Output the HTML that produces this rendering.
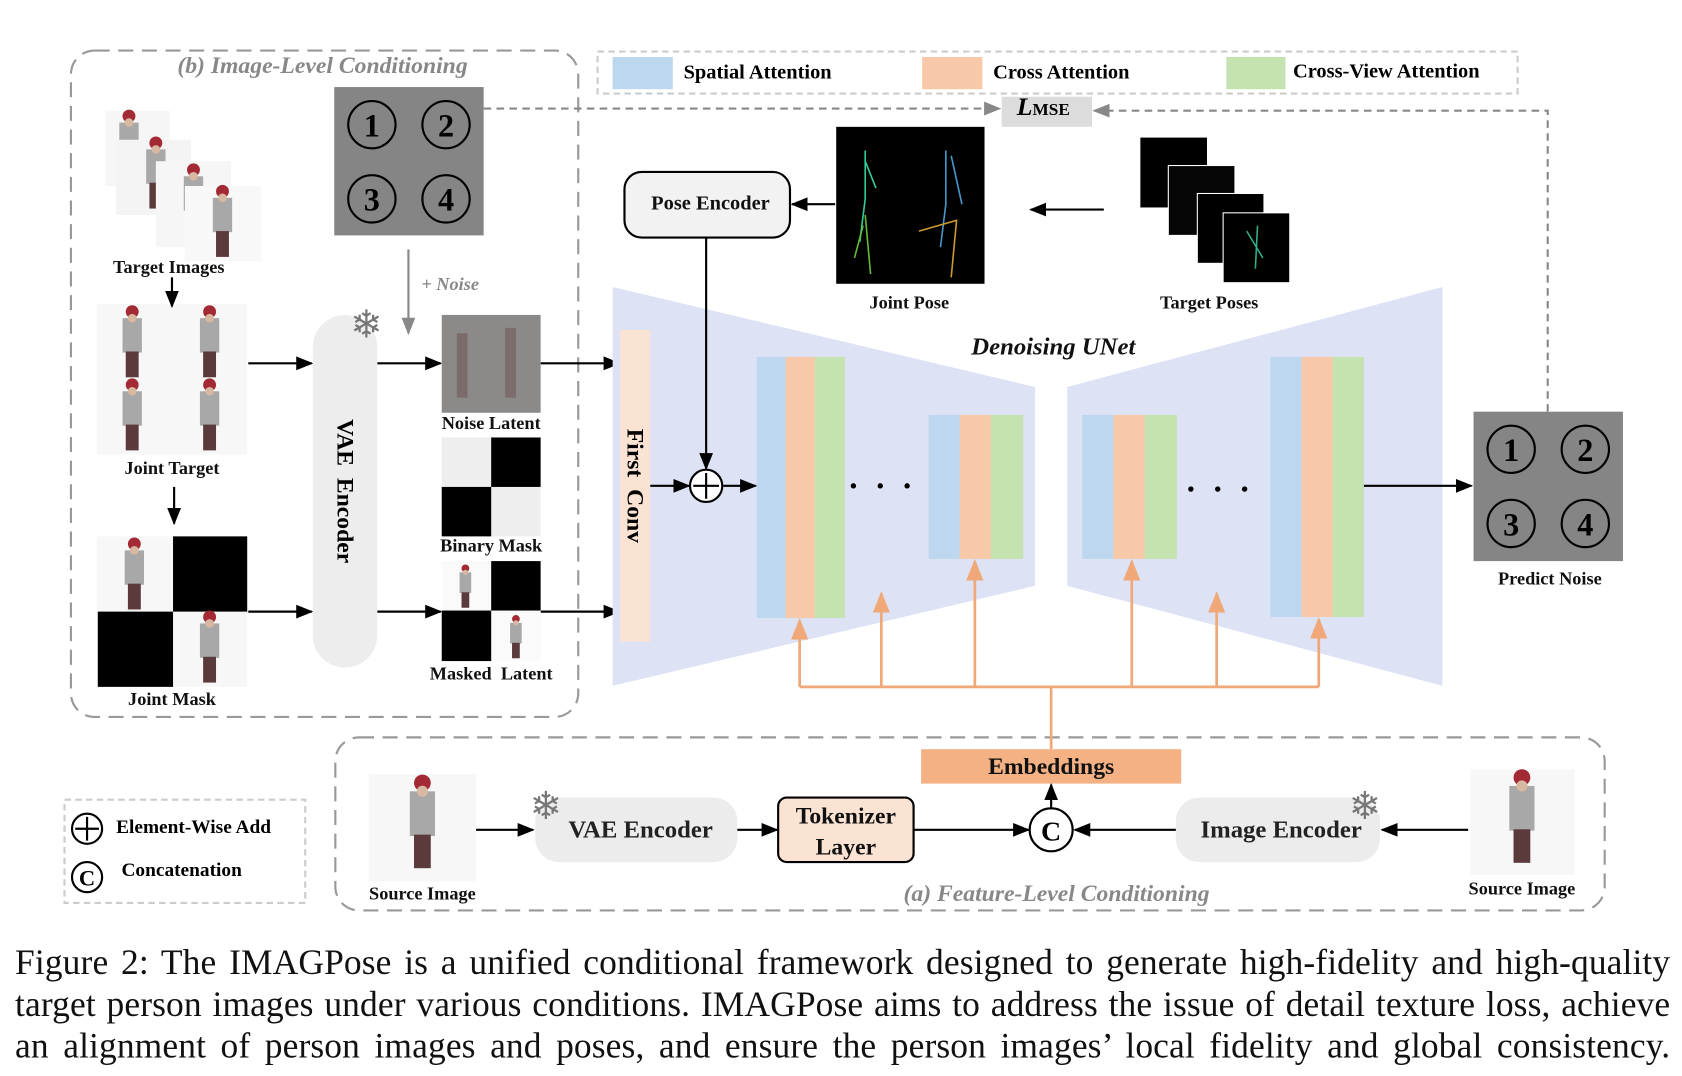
<!DOCTYPE html>
<html><head><meta charset="utf-8"><style>
html,body{margin:0;padding:0;background:#fff;overflow:hidden}
#w{position:absolute;left:0;top:0;width:1565px;height:1001px;transform:scale(1.0748,1.0749);transform-origin:0 0;font-family:"Liberation Serif",serif}
.a{position:absolute}
.lb{position:absolute;font-weight:bold;font-size:17px;white-space:nowrap;transform:translateX(-50%);color:#111}
.cap{position:absolute;left:14px;width:1540px;font-size:33px;letter-spacing:0.1px;text-align:justify;text-align-last:justify;white-space:nowrap;color:#111}
</style></head><body><div id="w">
<svg class="a" style="left:0;top:0" width="1565" height="1001" viewBox="0 0 1565 1001">
<defs>
<marker id="ar" viewBox="0 0 10 10" refX="9" refY="5" markerWidth="8" markerHeight="8" orient="auto-start-reverse"><path d="M0,1 L10,5 L0,9 z" fill="#000"/></marker>
<marker id="ag" viewBox="0 0 10 10" refX="9" refY="5" markerWidth="8" markerHeight="8" orient="auto"><path d="M0,1 L10,5 L0,9 z" fill="#888"/></marker>
<marker id="ao" viewBox="0 0 10 10" refX="9" refY="5" markerWidth="8" markerHeight="8" orient="auto"><path d="M0,1 L10,5 L0,9 z" fill="#f0a878"/></marker>
<g id="person"><rect x="-9" y="-26" width="18" height="32" fill="#a8a8a8"/><circle cx="0" cy="-32" r="6" fill="#a32a35"/><rect x="-6" y="5" width="12" height="24" fill="#5a3a3a"/><circle cx="0" cy="-26" r="4" fill="#d8b8a0"/></g>
</defs>
<rect x="66" y="47" width="472" height="620" rx="22" fill="none" stroke="#999" stroke-width="2" stroke-dasharray="14,8"/>
<rect x="556" y="48" width="856" height="39" fill="none" stroke="#ccc" stroke-width="2" stroke-dasharray="6,4"/>
<rect x="312" y="686" width="1181" height="161" rx="22" fill="none" stroke="#999" stroke-width="2" stroke-dasharray="14,8"/>
<rect x="60" y="744" width="224" height="96" fill="none" stroke="#ccc" stroke-width="2" stroke-dasharray="6,4"/>
<rect x="570" y="53" width="56" height="30" fill="#bcd7ee"/>
<rect x="858" y="53" width="56" height="30" fill="#f8c9a8"/>
<rect x="1141" y="53" width="55" height="30" fill="#c5e3b0"/>
<rect x="311" y="81" width="139" height="138" fill="#858585"/>
<g fill="none" stroke="#000" stroke-width="2"><circle cx="346" cy="116" r="22"/><circle cx="415" cy="116" r="22"/><circle cx="346" cy="185" r="22"/><circle cx="415" cy="185" r="22"/></g>
<g font-size="30" text-anchor="middle" font-family="Liberation Serif" font-weight="bold"><text x="346" y="127">1</text><text x="415" y="127">2</text><text x="346" y="196">3</text><text x="415" y="196">4</text></g>
<rect x="1371" y="383" width="139" height="139" fill="#858585"/>
<g fill="none" stroke="#000" stroke-width="2"><circle cx="1406" cy="418" r="22"/><circle cx="1475" cy="418" r="22"/><circle cx="1406" cy="487" r="22"/><circle cx="1475" cy="487" r="22"/></g>
<g font-size="30" text-anchor="middle" font-family="Liberation Serif" font-weight="bold"><text x="1406" y="429">1</text><text x="1475" y="429">2</text><text x="1406" y="498">3</text><text x="1475" y="498">4</text></g>
<rect x="932" y="90" width="84" height="28" fill="#dcdcdc"/>
<line x1="450" y1="101" x2="930" y2="101" stroke="#888" stroke-width="2" stroke-dasharray="7,5" marker-end="url(#ag)"/>
<polyline points="1440,383 1440,103 1018,103" fill="none" stroke="#888" stroke-width="2" stroke-dasharray="7,5" marker-end="url(#ag)"/>
<g><rect x="98" y="103" width="60" height="70" fill="#f6f6f6"/><use href="#person" x="120" y="140"/>
<rect x="108" y="130" width="70" height="70" fill="#f4f4f4"/><use href="#person" x="145" y="165"/>
<rect x="145" y="150" width="70" height="80" fill="#f6f6f6"/><use href="#person" x="180" y="190"/>
<rect x="172" y="173" width="71" height="70" fill="#f8f8f8"/><use href="#person" x="207" y="210"/></g>
<rect x="90" y="283" width="140" height="140" fill="#f7f7f7"/>
<use href="#person" x="123" y="322"/><use href="#person" x="195" y="322"/><use href="#person" x="123" y="390"/><use href="#person" x="195" y="390"/>
<rect x="90" y="499" width="140" height="140" fill="#f7f7f7"/>
<rect x="161" y="499" width="69" height="70" fill="#000"/><rect x="91" y="569" width="70" height="70" fill="#000"/>
<use href="#person" x="125" y="538"/><use href="#person" x="195" y="606"/>
<g stroke="#000" stroke-width="2" marker-end="url(#ar)">
<line x1="160" y1="258" x2="160" y2="285"/><line x1="162" y1="453" x2="162" y2="487"/>
<line x1="231" y1="338" x2="290" y2="338"/><line x1="231" y1="569" x2="290" y2="569"/>
<line x1="351" y1="338" x2="410" y2="338"/><line x1="351" y1="569" x2="410" y2="569"/>
<line x1="503" y1="338" x2="576" y2="338"/><line x1="503" y1="569" x2="576" y2="569"/>
</g>
<line x1="380" y1="232" x2="380" y2="310" stroke="#888" stroke-width="2" marker-end="url(#ag)"/>
<rect x="291" y="293" width="60" height="328" rx="30" fill="#ededed"/>
<text x="341" y="314" font-size="36" fill="#777" text-anchor="middle">❄</text>
<rect x="411" y="293" width="92" height="91" fill="#8c8a88"/>
<g opacity=".5"><rect x="425" y="310" width="10" height="60" fill="#6b5050"/><rect x="470" y="305" width="10" height="65" fill="#6b5050"/></g>
<rect x="411" y="407" width="92" height="92" fill="#eee"/><rect x="457" y="407" width="46" height="46" fill="#000"/><rect x="411" y="453" width="46" height="46" fill="#000"/>
<rect x="411" y="522" width="92" height="93" fill="#fafafa"/><rect x="457" y="522" width="46" height="46" fill="#000"/><rect x="411" y="568" width="46" height="47" fill="#000"/>
<g transform="translate(433,548) scale(0.6)"><use href="#person"/></g>
<g transform="translate(480,595) scale(0.6)"><use href="#person"/></g>
<polygon points="570,267 963,360 963,545 570,638" fill="#dde2f5"/>
<polygon points="993,360 1342,267 1342,638 993,545" fill="#dde2f5"/>
<rect x="577" y="307" width="28" height="290" fill="#fbe3d3"/>
<g>
<rect x="704" y="332" width="27" height="243" fill="#bcd7ee"/><rect x="731" y="332" width="27" height="243" fill="#f8c9a8"/><rect x="758" y="332" width="28" height="243" fill="#c5e3b0"/>
<rect x="864" y="386" width="29" height="134" fill="#bcd7ee"/><rect x="893" y="386" width="29" height="134" fill="#f8c9a8"/><rect x="922" y="386" width="30" height="134" fill="#c5e3b0"/>
<rect x="1007" y="386" width="29" height="134" fill="#bcd7ee"/><rect x="1036" y="386" width="29" height="134" fill="#f8c9a8"/><rect x="1065" y="386" width="30" height="134" fill="#c5e3b0"/>
<rect x="1182" y="332" width="29" height="242" fill="#bcd7ee"/><rect x="1211" y="332" width="29" height="242" fill="#f8c9a8"/><rect x="1240" y="332" width="29" height="242" fill="#c5e3b0"/>
</g>
<g fill="#000"><circle cx="794" cy="452" r="2.5"/><circle cx="819" cy="452" r="2.5"/><circle cx="844" cy="452" r="2.5"/>
<circle cx="1108" cy="455" r="2.5"/><circle cx="1133" cy="455" r="2.5"/><circle cx="1158" cy="455" r="2.5"/></g>
<rect x="581" y="160" width="154" height="61" rx="16" fill="#f2f2f2" stroke="#000" stroke-width="2"/>
<rect x="778" y="118" width="138" height="146" fill="#000"/>
<g stroke-width="1.5" fill="none"><path d="M805,140 L805,185 L800,225 M805,150 L815,175" stroke="#3c9"/><path d="M880,140 L880,190 L875,230 M885,145 L895,190" stroke="#49c"/><path d="M805,200 L810,255 M803,210 L795,240" stroke="#6b3"/><path d="M855,215 L890,205 L885,258" stroke="#c93"/></g>
<rect x="1061" y="128" width="62" height="65" fill="#000"/><rect x="1087" y="154" width="62" height="65" fill="#050505" stroke="#fff" stroke-width="1"/><rect x="1114" y="180" width="62" height="65" fill="#000" stroke="#fff" stroke-width="1"/><rect x="1138" y="198" width="62" height="65" fill="#000" stroke="#fff" stroke-width="1"/>
<path d="M1170,210 L1168,250 M1160,215 L1175,240" stroke="#3a8" stroke-width="1.5"/>
<g stroke="#000" stroke-width="2" marker-end="url(#ar)">
<line x1="777" y1="190" x2="737" y2="190"/><line x1="1027" y1="195" x2="959" y2="195"/>
<line x1="657" y1="221" x2="657" y2="436"/>
<line x1="605" y1="452" x2="641" y2="452"/><line x1="673" y1="452" x2="703" y2="452"/>
<line x1="1269" y1="452" x2="1369" y2="452"/>
</g>
<circle cx="657" cy="452" r="15" fill="#fff" stroke="#000" stroke-width="2"/>
<path d="M645,452 H669 M657,440 V464" stroke="#000" stroke-width="2"/>
<g stroke="#f0a878" stroke-width="2.5" fill="none">
<line x1="744" y1="639" x2="1227" y2="639"/><line x1="978" y1="639" x2="978" y2="697"/>
<line x1="744" y1="639" x2="744" y2="577" marker-end="url(#ao)"/><line x1="820" y1="639" x2="820" y2="552" marker-end="url(#ao)"/>
<line x1="907" y1="639" x2="907" y2="522" marker-end="url(#ao)"/><line x1="1053" y1="639" x2="1053" y2="522" marker-end="url(#ao)"/>
<line x1="1132" y1="639" x2="1132" y2="552" marker-end="url(#ao)"/><line x1="1227" y1="639" x2="1227" y2="576" marker-end="url(#ao)"/>
</g>
<rect x="857" y="697" width="242" height="32" fill="#f4b183"/>
<rect x="343" y="720" width="100" height="100" fill="#f7f7f7"/><g transform="translate(393,770) scale(1.3)"><use href="#person"/></g>
<rect x="1368" y="716" width="97" height="98" fill="#f7f7f7"/><g transform="translate(1416,765) scale(1.3)"><use href="#person"/></g>
<rect x="498" y="742" width="188" height="60" rx="22" fill="#ececec"/>
<rect x="1094" y="742" width="190" height="60" rx="22" fill="#ececec"/>
<rect x="724" y="742" width="126" height="60" rx="8" fill="#fbe3d3" stroke="#000" stroke-width="2"/>
<text x="508" y="762" font-size="36" fill="#777" text-anchor="middle">❄</text>
<text x="1270" y="762" font-size="36" fill="#777" text-anchor="middle">❄</text>
<g stroke="#000" stroke-width="2" marker-end="url(#ar)">
<line x1="443" y1="772" x2="496" y2="772"/><line x1="686" y1="772" x2="723" y2="772"/>
<line x1="850" y1="772" x2="957" y2="772"/><line x1="1094" y1="772" x2="1000" y2="772"/>
<line x1="1366" y1="772" x2="1286" y2="772"/><line x1="978" y1="752" x2="978" y2="730"/>
</g>
<circle cx="978" cy="772" r="20" fill="#fff" stroke="#000" stroke-width="2"/>
<text x="978" y="782" font-size="26" text-anchor="middle" font-family="Liberation Serif" font-weight="bold">C</text>
<circle cx="81" cy="771" r="14" fill="#fff" stroke="#000" stroke-width="2"/><path d="M70,771 H92 M81,760 V782" stroke="#000" stroke-width="2"/>
<circle cx="81" cy="816" r="14" fill="#fff" stroke="#000" stroke-width="2"/>
<text x="81" y="824" font-size="21" text-anchor="middle" font-family="Liberation Serif" font-weight="bold">C</text>
</svg>
<div class="a" style="left:165px;top:48px;font-size:22px;font-style:italic;font-weight:bold;color:#888;white-space:nowrap">(b) Image-Level Conditioning</div>
<div class="a" style="left:636px;top:57px;font-size:19px;font-weight:bold">Spatial Attention</div>
<div class="a" style="left:924px;top:57px;font-size:19px;font-weight:bold">Cross Attention</div>
<div class="a" style="left:1203px;top:56px;font-size:19px;font-weight:bold">Cross-View Attention</div>
<div class="a" style="left:946px;top:87px;font-size:24px;font-weight:bold;font-style:italic">L<span style="font-size:16px;font-style:normal">MSE</span></div>
<div class="lb" style="left:157px;top:239px">Target Images</div>
<div class="lb" style="left:160px;top:426px">Joint Target</div>
<div class="lb" style="left:160px;top:641px">Joint Mask</div>
<div class="lb" style="left:457px;top:384px">Noise Latent</div>
<div class="lb" style="left:457px;top:498px">Binary Mask</div>
<div class="lb" style="left:457px;top:617px">Masked&nbsp; Latent</div>
<div class="a" style="left:392px;top:255px;font-size:17px;font-style:italic;font-weight:bold;color:#888">+ Noise</div>
<div class="a" style="left:321px;top:457px;transform:translate(-50%,-50%) rotate(90deg);font-size:22px;font-weight:bold;white-space:nowrap">VAE&nbsp; Encoder</div>
<div class="a" style="left:591px;top:452px;transform:translate(-50%,-50%) rotate(90deg);font-size:22px;font-weight:bold;white-space:nowrap">First&nbsp; Conv</div>
<div class="lb" style="left:661px;top:179px;font-size:19px">Pose Encoder</div>
<div class="lb" style="left:846px;top:272px">Joint Pose</div>
<div class="lb" style="left:1125px;top:272px">Target Poses</div>
<div class="lb" style="left:980px;top:310px;font-size:23px;font-style:italic">Denoising UNet</div>
<div class="lb" style="left:1442px;top:529px">Predict Noise</div>
<div class="lb" style="left:978px;top:700px;font-size:22px">Embeddings</div>
<div class="lb" style="left:596px;top:759px;font-size:23px;color:#222">VAE Encoder</div>
<div class="lb" style="left:787px;top:744px;font-size:22px;line-height:29px;text-align:center">Tokenizer<br>Layer</div>
<div class="lb" style="left:1192px;top:759px;font-size:23px;color:#222">Image Encoder</div>
<div class="lb" style="left:393px;top:822px">Source Image</div>
<div class="lb" style="left:1416px;top:817px">Source Image</div>
<div class="lb" style="left:983px;top:818px;font-size:22px;font-style:italic;color:#888">(a) Feature-Level Conditioning</div>
<div class="a" style="left:108px;top:759px;font-size:18px;font-weight:bold">Element-Wise Add</div>
<div class="a" style="left:113px;top:799px;font-size:18px;font-weight:bold">Concatenation</div>
<div class="cap" style="top:878px">Figure 2: The IMAGPose is a unified conditional framework designed to generate high-fidelity and high-quality</div>
<div class="cap" style="top:917px">target person images under various conditions. IMAGPose aims to address the issue of detail texture loss, achieve</div>
<div class="cap" style="top:956px">an alignment of person images and poses, and ensure the person images’ local fidelity and global consistency.</div>
</div></body></html>
